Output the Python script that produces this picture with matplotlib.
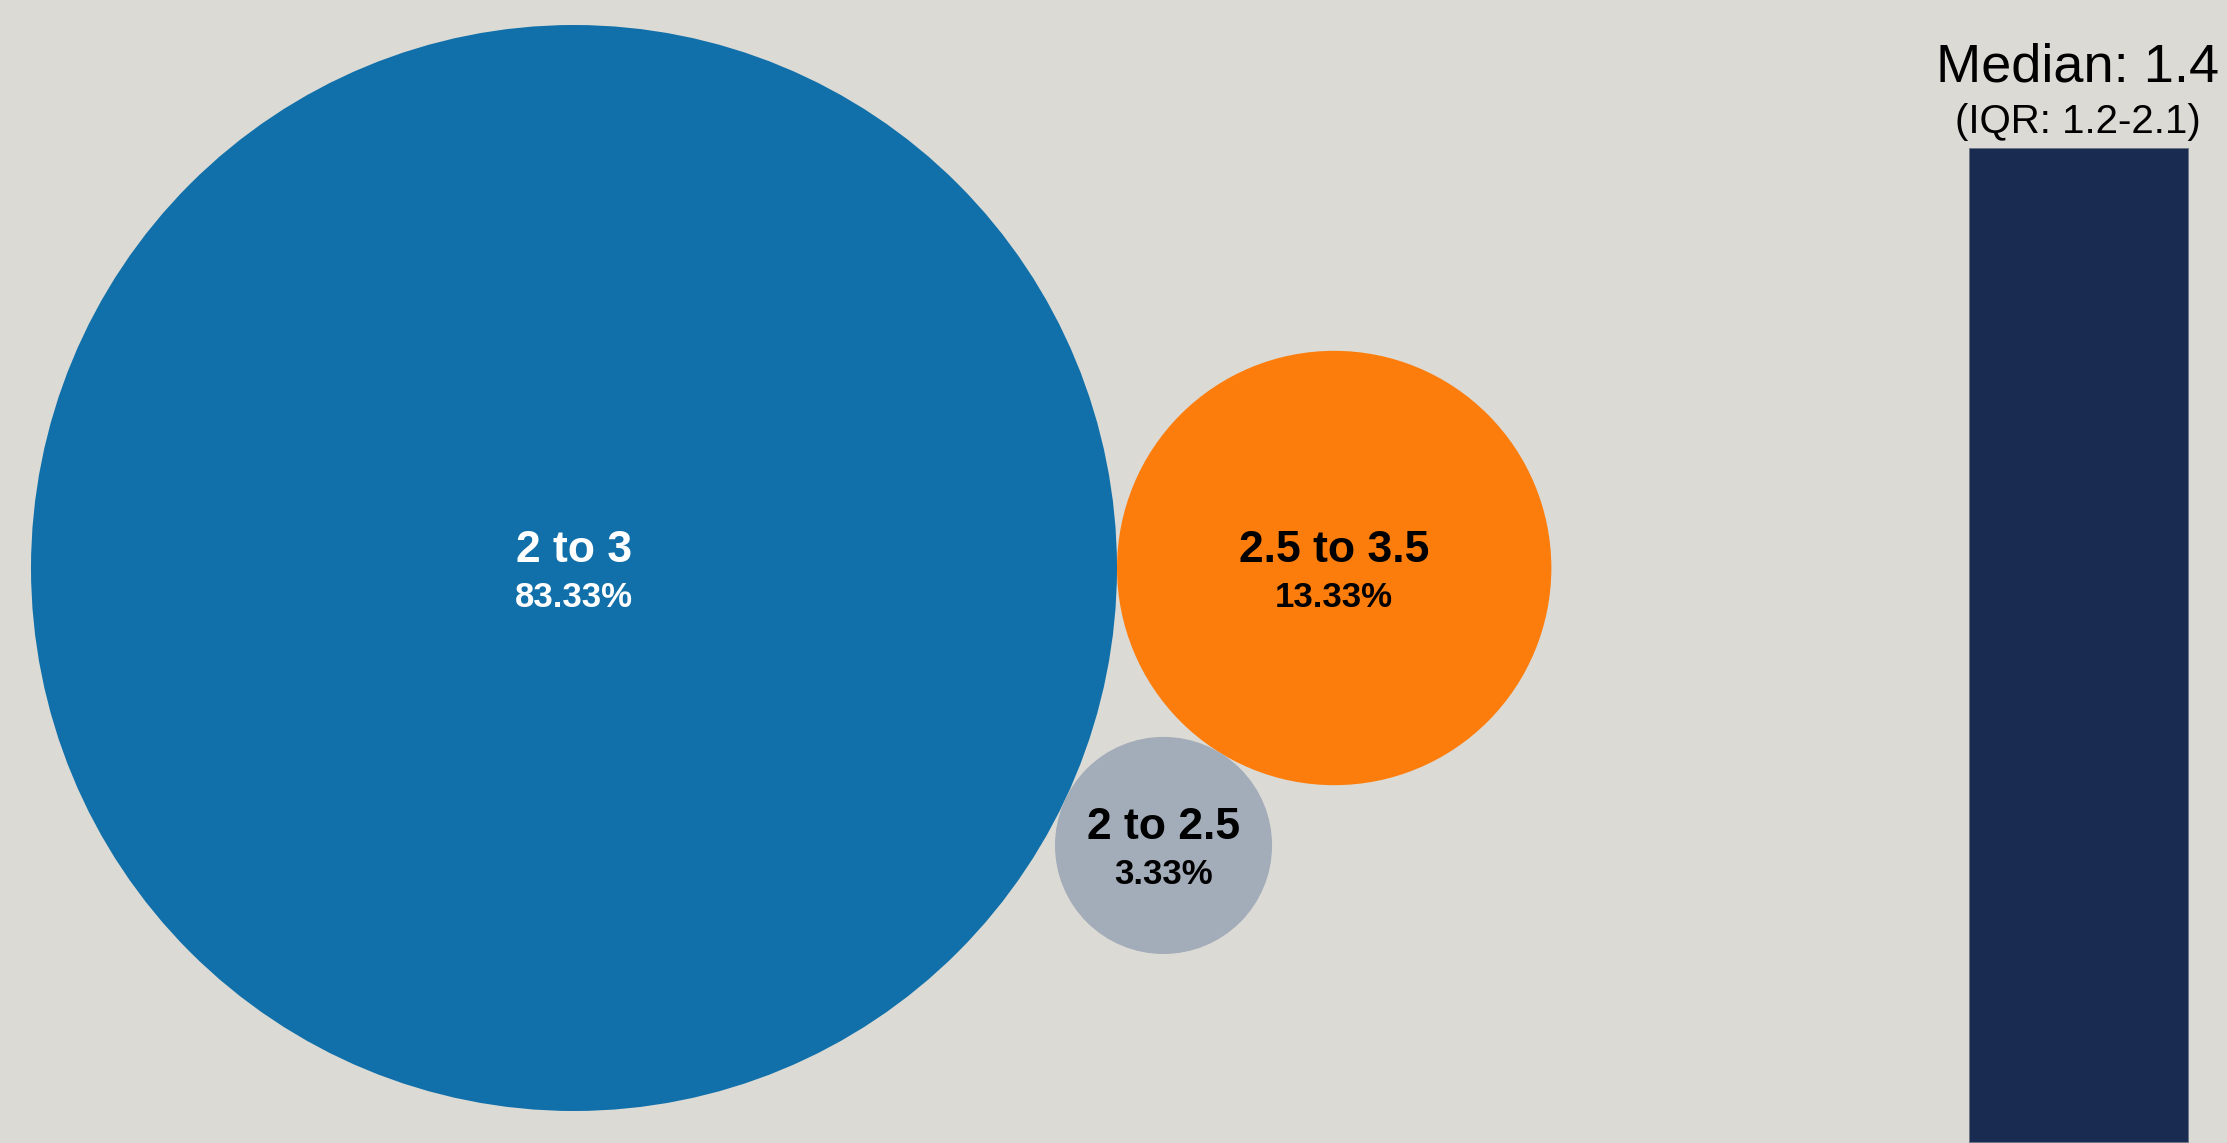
import numpy as np
import matplotlib.pyplot as plt
from matplotlib.patches import Circle

plt.rcParams['font.family'] = ['Liberation Sans', 'DejaVu Sans']

# data
ranges = ['2 to 3', '2.5 to 3.5', '2 to 2.5']
shares = [83.33, 13.33, 3.33]
colors = ['#1170AA', '#FC7D0B', '#A3ACB9']
text_colors = ['white', 'black', 'black']
median = 1.4
iqr = (1.2, 2.1)

W, H = 2227, 1143
bg = '#DBDAD5'

fig = plt.figure(figsize=(W / 100, H / 100), dpi=100, facecolor=bg)

# bubble area proportional to share
ax = fig.add_axes([0, 0, 1, 1])
ax.set_xlim(0, W)
ax.set_ylim(H, 0)
ax.set_aspect('equal')
ax.axis('off')

k = 543 / np.sqrt(max(shares))
r = [k * np.sqrt(s) for s in shares]

# pack: biggest at left, second touching on the right, third touching both
c0 = np.array([574.0, 568.0])
c1 = c0 + np.array([r[0] + r[1], 0])
d1, d2 = r[0] + r[2], r[1] + r[2]
D = np.linalg.norm(c1 - c0)
px = (d1**2 - d2**2 + D**2) / (2 * D)
py = np.sqrt(d1**2 - px**2)
c2 = c0 + np.array([px, py])
centers = [c0, c1, c2]

for c, rad, col, tc, lab, s in zip(centers, r, colors, text_colors, ranges, shares):
    ax.add_patch(Circle(c, rad, facecolor=col, edgecolor='none'))
    ax.text(c[0], c[1] - 6, lab, ha='center', va='baseline', fontsize=32,
            fontweight='bold', color=tc)
    ax.text(c[0], c[1] + 39, f'{s:.2f}%', ha='center', va='baseline', fontsize=25,
            fontweight='bold', color=tc)

# median bar
top = 148 / H
bx = fig.add_axes([1969 / W, 0, 220 / W, 1 - top])
bx.set_facecolor('none')
bx.bar([0], [median], width=1.0, color='#1A2B52', edgecolor='#7d8590', linewidth=1.2)
bx.set_xlim(-0.5, 0.5)
bx.set_ylim(0, median)
bx.axis('off')

fig.text(2078 / W, 1 - 82 / H, f'Median: {median}', ha='center', va='baseline',
         fontsize=39, color='black')
fig.text(2078 / W, 1 - 133 / H, f'(IQR: {iqr[0]}-{iqr[1]})', ha='center', va='baseline',
         fontsize=29, color='black')

fig.savefig('out.png', facecolor=bg)
